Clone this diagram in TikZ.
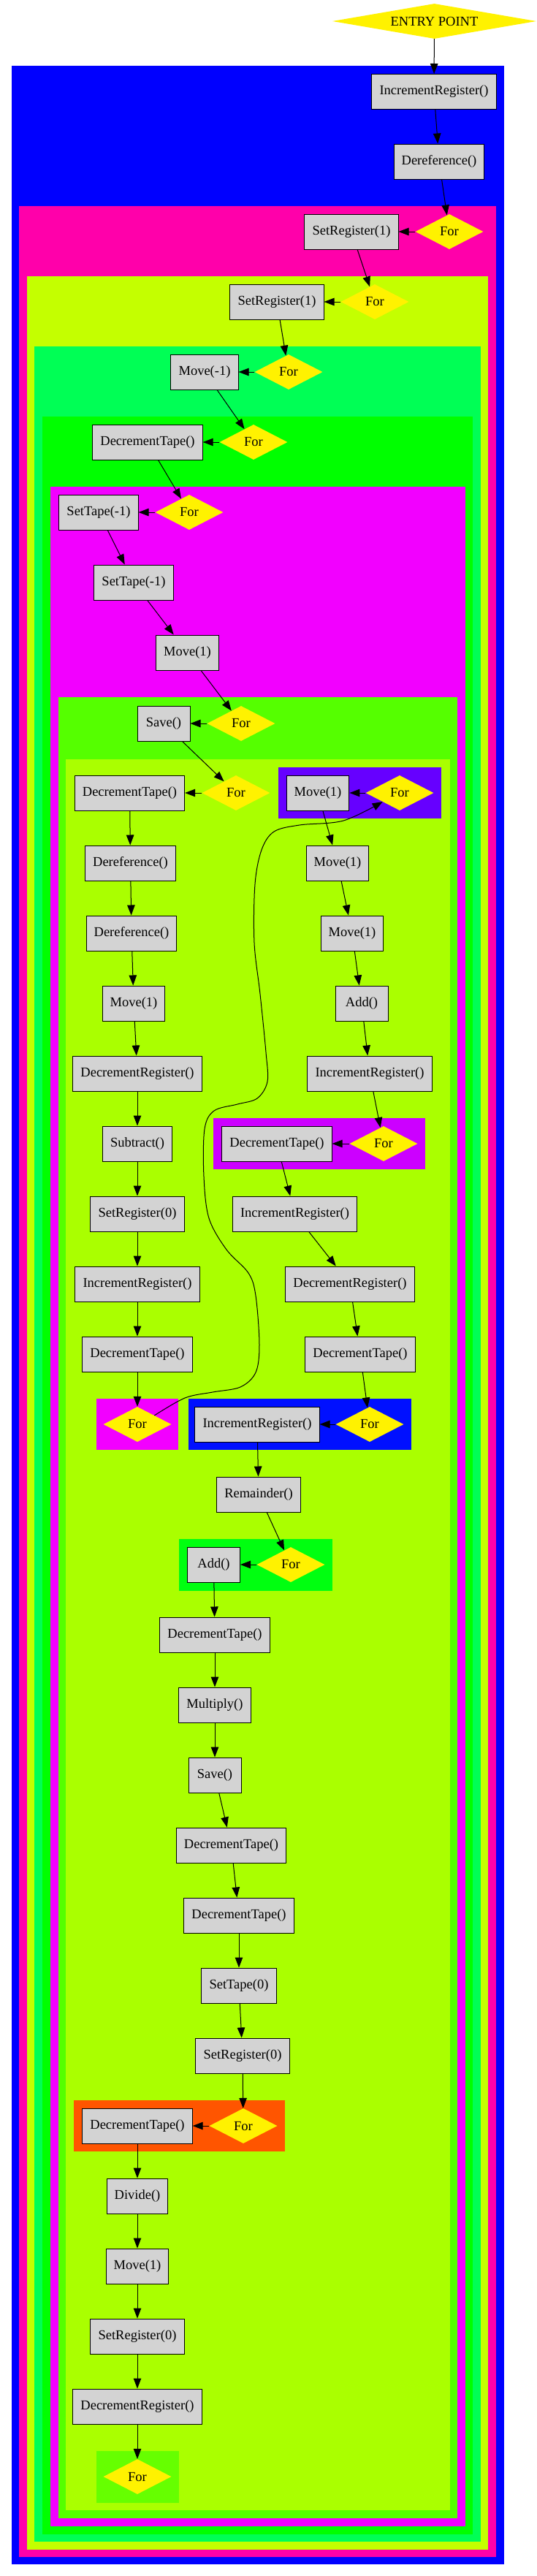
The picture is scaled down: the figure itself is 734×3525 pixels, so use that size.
\documentclass[tikz,border=0pt]{standalone}
\usepackage{fontspec}
\setmainfont{Liberation Serif}
\usetikzlibrary{shapes.geometric,arrows.meta}

\definecolor{boxgray}{HTML}{D3D3D3}
\definecolor{cblue}{HTML}{0000FF}
\definecolor{cpink}{HTML}{FF00AA}
\definecolor{cyellowgreen}{HTML}{C4FF00}
\definecolor{cspring}{HTML}{00FF55}
\definecolor{cgreen}{HTML}{00FF00}
\definecolor{cmagenta}{HTML}{F200FF}
\definecolor{cchart}{HTML}{55FF00}
\definecolor{clime}{HTML}{AAFF00}
\definecolor{cpurple}{HTML}{6600FF}
\definecolor{cviolet}{HTML}{CC00FF}
\definecolor{cblue2}{HTML}{0010FF}
\definecolor{cgreen2}{HTML}{00FF10}
\definecolor{corange}{HTML}{FF5500}
\definecolor{cchart2}{HTML}{66FF00}

\begin{document}
\begin{tikzpicture}[x=1pt,y=-1pt,
  font=\fontsize{18.5}{22}\selectfont,
  instr/.style={draw=black,line width=1pt,fill=boxgray,minimum width=72pt,minimum height=48pt,inner xsep=10.6pt,inner ysep=0pt},
  forshape/.style={diamond,fill=yellow,minimum width=93pt,minimum height=48pt,inner sep=0pt,aspect=1.9},
  arr/.style={-{Triangle[length=14pt,width=10.5pt]},line width=1pt}]
\useasboundingbox (0,0) rectangle (734,3525);

% Draw the nested loop clusters
\fill[cblue] (15.5,90) rectangle (689.5,3509);
\fill[cpink] (26,282) rectangle (679,3499);
\fill[cyellowgreen] (36.6,378) rectangle (668,3489);
\fill[cspring] (47,474) rectangle (658,3478);
\fill[cgreen] (58,570) rectangle (647,3468);
\fill[cmagenta] (69,666) rectangle (636.5,3457);
\fill[cchart] (80,954) rectangle (626,3446);
\fill[clime] (90,1039) rectangle (615.5,3435);

% Draw the small loop clusters
\fill[cpurple] (381,1050) rectangle (604,1120);
\fill[cviolet] (292,1530) rectangle (582,1600);
\fill[cmagenta] (132,1914) rectangle (244,1984);
\fill[cblue2] (257.5,1914) rectangle (563,1984);
\fill[cgreen2] (245,2106) rectangle (454.5,2177);
\fill[corange] (101,2874) rectangle (390,2944);
\fill[cchart2] (132,3354) rectangle (245,3425);

% Entry and outer part
\node[diamond,fill=yellow,minimum width=279pt,minimum height=48pt,inner sep=0pt,aspect=5.8] (entry) at (594.5,29) {ENTRY POINT};
\node[instr] (ir1) at (594,125.5) {IncrementRegister()};
\node[instr] (df0) at (601,221) {Dereference()};
\node[forshape] (fa) at (615,317) {For};
\node[instr] (sr1) at (481,317) {SetRegister(1)};
\node[forshape] (fb) at (513,413) {For};
\node[instr] (sr2) at (379,413) {SetRegister(1)};
\node[forshape] (fc) at (395,509) {For};
\node[instr] (mv1) at (280,509) {Move(-1)};
\node[forshape] (fd) at (347,605) {For};
\node[instr] (dt1) at (202,605) {DecrementTape()};
\node[forshape] (fe) at (259,701) {For};
\node[instr] (st1) at (135,701) {SetTape(-1)};
\node[instr] (st2) at (183,797) {SetTape(-1)};
\node[instr] (mv2) at (256.5,893) {Move(1)};
\node[forshape] (ff) at (330,990) {For};
\node[instr] (sv1) at (224,990) {Save()};
\node[forshape] (fg) at (323,1085) {For};

% Left column
\node[instr] (dt2) at (177.5,1085) {DecrementTape()};
\node[instr] (df1) at (178.5,1181) {Dereference()};
\node[instr] (df2) at (180,1277) {Dereference()};
\node[instr] (mv6) at (183,1373) {Move(1)};
\node[instr] (drg1) at (188,1469) {DecrementRegister()};
\node[instr] (sub) at (188,1565) {Subtract()};
\node[instr] (sr3) at (188,1661) {SetRegister(0)};
\node[instr] (ir4) at (188,1757) {IncrementRegister()};
\node[instr] (dt4) at (188,1853) {DecrementTape()};
\node[forshape] (fj) at (188,1949) {For};

% Right column
\node[forshape] (fh) at (547,1085) {For};
\node[instr] (mv3) at (435,1085) {Move(1)};
\node[instr] (mv4) at (462,1181) {Move(1)};
\node[instr] (mv5) at (482,1277) {Move(1)};
\node[instr] (ad1) at (495,1373) {Add()};
\node[instr] (ir2) at (506,1469) {IncrementRegister()};
\node[forshape] (fi) at (525,1565) {For};
\node[instr] (dt3) at (379,1565) {DecrementTape()};
\node[instr] (ir3) at (403.5,1661) {IncrementRegister()};
\node[instr] (drg2) at (479,1757) {DecrementRegister()};
\node[instr] (dt5) at (493,1853) {DecrementTape()};
\node[forshape] (fk) at (506,1949) {For};
\node[instr] (ir5) at (352,1949) {IncrementRegister()};

% Lower part
\node[instr] (rem) at (354,2045) {Remainder()};
\node[forshape] (fl) at (398,2141) {For};
\node[instr] (ad2) at (292.5,2141) {Add()};
\node[instr] (dt6) at (294,2237) {DecrementTape()};
\node[instr] (mul) at (294,2333) {Multiply()};
\node[instr] (sv2) at (294,2429) {Save()};
\node[instr] (dt7) at (316.5,2525) {DecrementTape()};
\node[instr] (dt8) at (327,2621) {DecrementTape()};
\node[instr] (st3) at (327,2717) {SetTape(0)};
\node[instr] (sr4) at (332,2813) {SetRegister(0)};
\node[forshape] (fm) at (333,2909) {For};
\node[instr] (dt9) at (188,2909) {DecrementTape()};
\node[instr] (div) at (188,3005) {Divide()};
\node[instr] (mv7) at (188,3101) {Move(1)};
\node[instr] (sr5) at (188,3197) {SetRegister(0)};
\node[instr] (drg3) at (188,3293) {DecrementRegister()};
\node[forshape] (fn) at (188,3389) {For};

% Draw the edges
\foreach \a/\b in {entry/ir1,ir1/df0,df0/fa,fa/sr1,sr1/fb,fb/sr2,sr2/fc,fc/mv1,mv1/fd,fd/dt1,dt1/fe,fe/st1,st1/st2,st2/mv2,mv2/ff,ff/sv1,sv1/fg,fg/dt2,
  dt2/df1,df1/df2,df2/mv6,mv6/drg1,drg1/sub,sub/sr3,sr3/ir4,ir4/dt4,dt4/fj,
  fh/mv3,mv3/mv4,mv4/mv5,mv5/ad1,ad1/ir2,ir2/fi,fi/dt3,dt3/ir3,ir3/drg2,drg2/dt5,dt5/fk,fk/ir5,
  ir5/rem,rem/fl,fl/ad2,ad2/dt6,dt6/mul,mul/sv2,sv2/dt7,dt7/dt8,dt8/st3,st3/sr4,sr4/fm,fm/dt9,
  dt9/div,div/mv7,mv7/sr5,sr5/drg3,drg3/fn}
  \draw[arr] (\a) -- (\b);

% The long back edge
\draw[arr] plot[smooth,tension=0.55] coordinates {(fj.north east) (253,1913) (291,1905) (329,1898) (350,1878) (355,1840) (350,1773) (340,1742) (310,1710) (286,1667) (279,1610) (280,1545) (293,1520) (325,1511) (352,1503) (366,1480) (364,1440) (356,1360) (348,1290) (349,1210) (358,1163) (375,1138) (410,1129) (470,1123) (fh.south west)};
\end{tikzpicture}
\end{document}
